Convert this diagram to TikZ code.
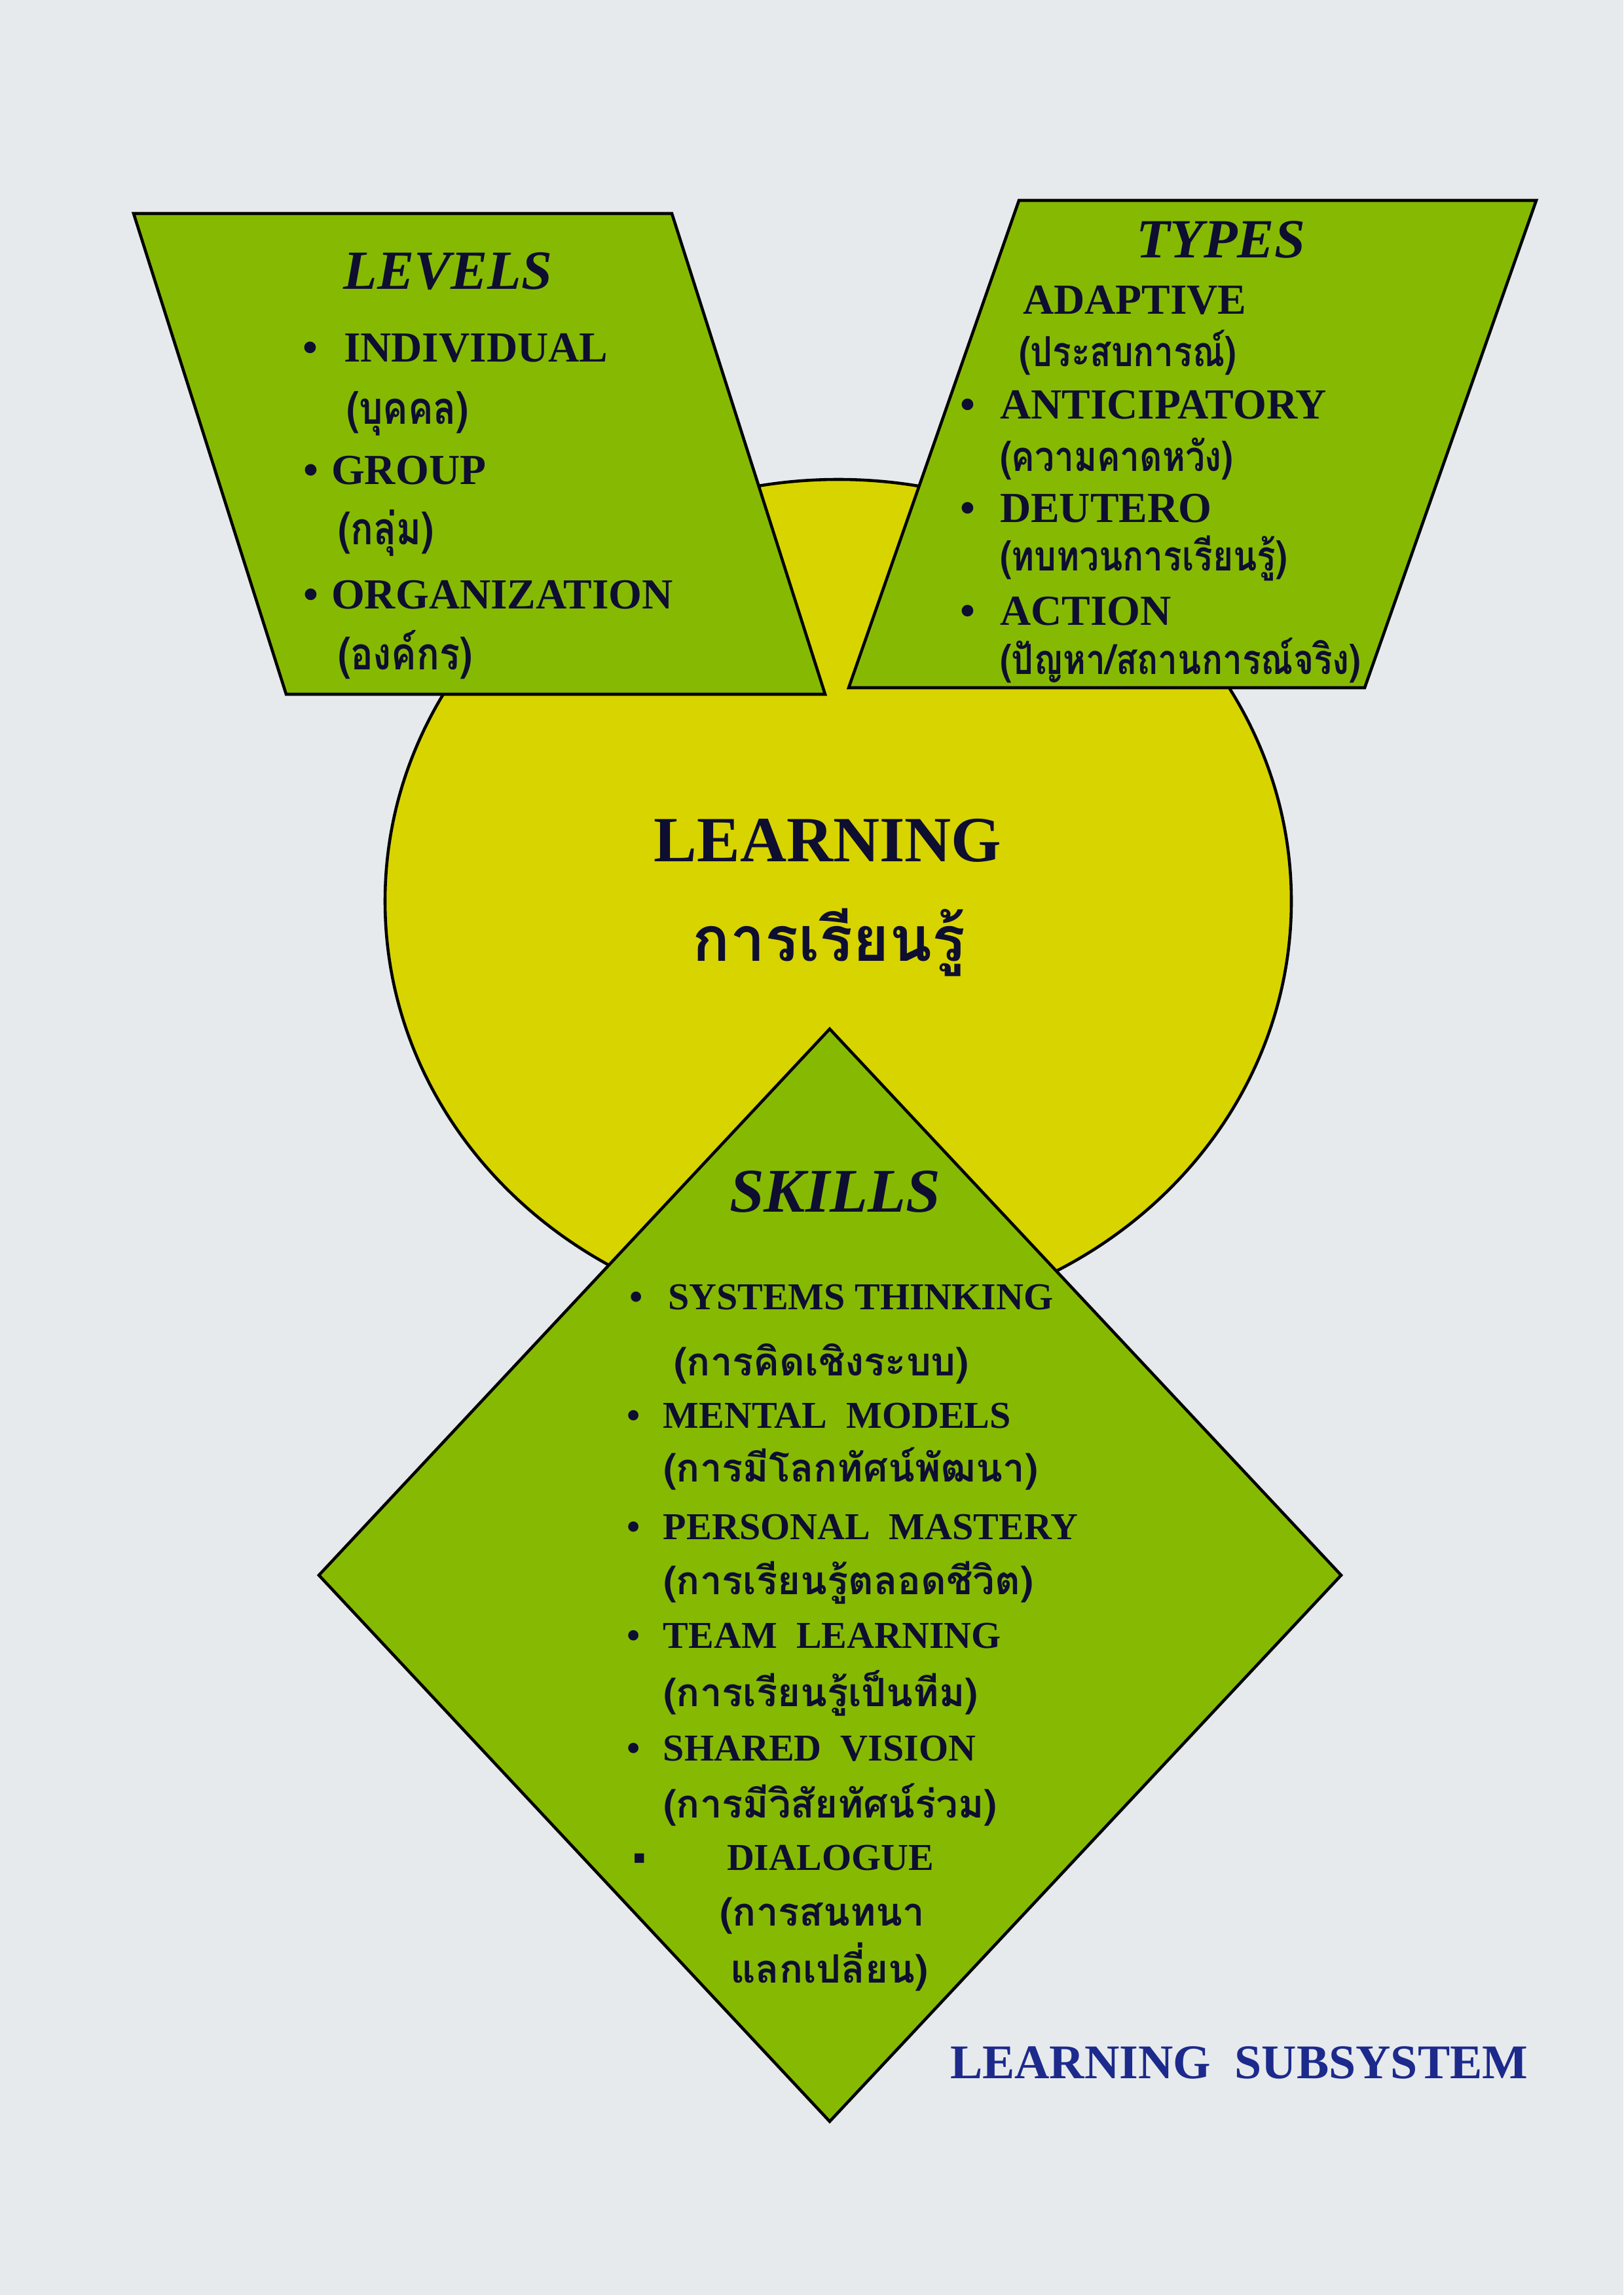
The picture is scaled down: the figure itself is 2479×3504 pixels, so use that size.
\documentclass[tikz,border=0pt]{standalone}
\usepackage{fontspec}
\setmainfont{Liberation Serif}
\newfontfamily\thaifont[Script=Thai]{Loma}
\newfontfamily\thainarrow[Script=Thai, FakeStretch=0.84]{Loma}
\usetikzlibrary{positioning}
\definecolor{paper}{RGB}{230,234,236}
\definecolor{leaf}{RGB}{134,186,2}
\definecolor{sun}{RGB}{216,212,0}
\definecolor{ink}{RGB}{14,14,48}
\definecolor{navyblue}{RGB}{28,42,140}
\newcommand{\itembul}[1]{\llap{\textbullet\hspace{#1}}}
\tikzset{
    every node/.style = {
        inner sep = 0pt,
        outer sep = 0pt,
        text = ink
    },
    box/.style = {
        draw = black,
        line width = 1.3pt,
        fill = leaf
    },
    title/.style = {
        anchor = base,
        font = \fontsize{24}{28}\selectfont\bfseries\itshape
    },
    item/.style = {
        anchor = base west,
        font = \fontsize{18.6}{22}\selectfont\bfseries
    },
    thai/.style = {
        anchor = base west,
        font = \fontsize{18}{22}\selectfont\thainarrow\bfseries
    },
    levelthai/.style = {
        thai,
        font = \fontsize{19.5}{22}\selectfont\thainarrow\bfseries
    },
    skill/.style = {
        anchor = base west,
        font = \fontsize{16.5}{20}\selectfont\bfseries
    },
    skillthai/.style = {
        anchor = base west,
        font = \fontsize{17}{20}\selectfont\thaifont\bfseries
    }
}

\begin{document}
\begin{tikzpicture}[x = 0.01cm, y = -0.01cm]
    \fill[paper] (0,0) rectangle (2479,3504);
    \useasboundingbox (0,0) rectangle (2479,3504);

    % shapes
    \draw[box, fill = sun] (1280,1376) ellipse (692 and 644);
    \draw[box] (1267,1571) -- (2048,2405) -- (1267,3239) -- (487,2405) -- cycle;
    \draw[box] (204,326) -- (1026,326) -- (1260,1060) -- (437,1060) -- cycle;
    \draw[box] (1556,306) -- (2346,306) -- (2084,1050) -- (1296,1050) -- cycle;

    % levels
    \node[title] (levels) at (684,442) {LEVELS};
    \node[item] (lv1) at (525,553) {\itembul{0.6em}INDIVIDUAL};
    \node[levelthai] (lv1t) at (529,648) {(บุคคล)};
    \node[item] (lv2) at (506,740) {\itembul{0.3em}GROUP};
    \node[levelthai] (lv2t) at (516,832) {(กลุ่ม)};
    \node[item] (lv3) at (506,930) {\itembul{0.3em}ORGANIZATION};
    \node[levelthai] (lv3t) at (516,1022) {(องค์กร)};

    % types
    \node[title] (types) at (1864,394) {TYPES};
    \node[item] (ty1) at (1562,480) {ADAPTIVE};
    \node[thai] (ty1t) at (1556,560) {(ประสบการณ์)};
    \node[item] (ty2) at (1527,640) {\itembul{0.57em}ANTICIPATORY};
    \node[thai] (ty2t) at (1527,720) {(ความคาดหวัง)};
    \node[item] (ty3) at (1527,798) {\itembul{0.57em}DEUTERO};
    \node[thai] (ty3t) at (1527,872) {(ทบทวนการเรียนรู้)};
    \node[item] (ty4) at (1527,955) {\itembul{0.57em}ACTION};
    \node[thai] (ty4t) at (1527,1030) {(ปัญหา/สถานการณ์จริง)};

    % learning
    \node[anchor = base, font = \fontsize{28}{32}\selectfont\bfseries] (learn) at (1264,1315) {LEARNING};
    \node[anchor = base, font = \fontsize{27}{32}\selectfont\thaifont\bfseries] (learnt) at (1266,1467) {การเรียนรู้};

    % skills
    \node[title, font = \fontsize{27}{30}\selectfont\bfseries\itshape] (skills) at (1275,1850) {SKILLS};
    \node[skill] (sk1) at (1020,1999) {\itembul{0.65em}SYSTEMS THINKING};
    \node[skillthai] (sk1t) at (1029,2100) {(การคิดเชิงระบบ)};
    \node[skill] (sk2) at (1013,2180) {\itembul{0.6em}MENTAL~~MODELS};
    \node[skillthai] (sk2t) at (1013,2262) {(การมีโลกทัศน์พัฒนา)};
    \node[skill] (sk3) at (1013,2350) {\itembul{0.6em}PERSONAL~~MASTERY};
    \node[skillthai] (sk3t) at (1013,2434) {(การเรียนรู้ตลอดชีวิต)};
    \node[skill] (sk4) at (1013,2516) {\itembul{0.6em}TEAM~~LEARNING};
    \node[skillthai] (sk4t) at (1013,2605) {(การเรียนรู้เป็นทีม)};
    \node[skill] (sk5) at (1013,2688) {\itembul{0.6em}SHARED~~VISION};
    \node[skillthai] (sk5t) at (1013,2775) {(การมีวิสัยทัศน์ร่วม)};
    \node[skill, anchor = base] (sk6b) at (977,2855) {▪};
    \node[skill] (sk6) at (1110,2855) {DIALOGUE};
    \node[skillthai] (sk6t) at (1099,2940) {(การสนทนา};
    \node[skillthai] (sk6u) at (1115,3027) {แลกเปลี่ยน)};

    \node[anchor = base west, text = navyblue, font = \fontsize{21}{24}\selectfont\bfseries] (caption) at (1451,3173) {LEARNING~~SUBSYSTEM};
\end{tikzpicture}
\end{document}
